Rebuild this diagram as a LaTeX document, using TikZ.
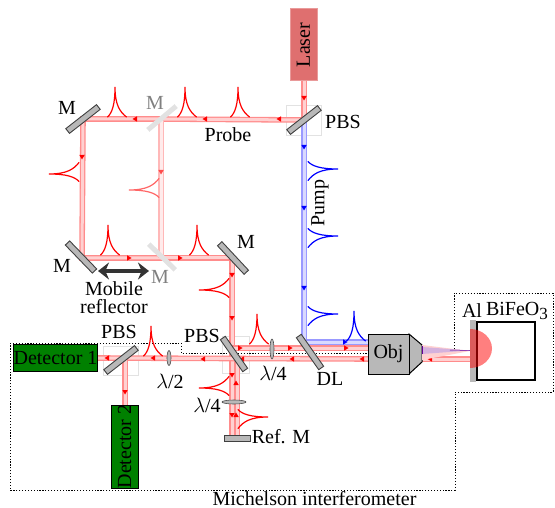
\documentclass[tikz,border=0pt]{standalone}
\usepackage{fontspec}
\setmainfont{Liberation Serif}
\usetikzlibrary{shapes.geometric,arrows.meta,calc}
\definecolor{gmirror}{HTML}{B8B8B8}
\definecolor{dgreen}{HTML}{008000}
\definecolor{laserc}{HTML}{DF6F6F}
\definecolor{boxgrey}{HTML}{E2E2E2}
\definecolor{arrowc}{HTML}{333333}
\tikzset{
  every node/.style={font=\fontsize{20}{20}\selectfont,inner sep=0pt},
  beam/.style={draw=red!45,double=red!18,line width=1.3pt,double distance=3pt},
  lightbeam/.style={draw=red!28,double=red!8,line width=1.3pt,double distance=3pt},
  bluebeam/.style={draw=blue!40,double=blue!15,line width=1.3pt,double distance=3pt},
  mirror/.style={draw=black!75,fill=gmirror,line width=0.9pt,minimum height=6pt,minimum width=#1,rectangle},
  ghostmirror/.style={draw=none,fill=boxgrey,minimum height=5pt,minimum width=#1,rectangle},
  pbsbox/.style={draw=boxgrey,line width=0.9pt},
  plate/.style={ellipse,draw=black!70,fill=gmirror,line width=0.6pt},
  dbox/.style={line width=0.9pt,draw=black,dash pattern=on 1.2pt off 1.7pt},
  detector/.style={rectangle,draw=black,fill=dgreen,line width=0.9pt,text=black},
  pr/.style={draw=red,line width=1.2pt},
  prl/.style={draw=red!60,line width=1.2pt},
  pb/.style={draw=blue,line width=1.2pt},
  pics/pulse/.style={code={
    \draw[line cap=round] (-9.5,0) .. controls (-5,-4) and (-2,-12) .. (-2,-30) .. controls (-2,-12) and (3,-5) .. (9.5,0);
  }},
  pics/mk/.style={code={
    \fill (2.5,0) -- (-2,-2.7) -- (-2,2.7) -- cycle;
  }},
}
\begin{document}
\begin{tikzpicture}[x=1pt,y=-1pt]
\useasboundingbox (0,0) rectangle (555,508);
% anchors
\coordinate (lasertail) at (304,80);
\coordinate (pbs1) at (304,120);
\coordinate (m1) at (83,119);
\coordinate (gm1) at (161,119);
\coordinate (m2) at (82,258);
\coordinate (gm2) at (161,258);
\coordinate (m3) at (232,258);
\coordinate (refa) at (232,435);
\coordinate (refb) at (237,435);
\coordinate (pbs2a) at (237,359);
\coordinate (pbs2u) at (232,348);
\coordinate (pump) at (304,342);
\coordinate (objb) at (368,342);
\coordinate (obju) at (368,348);
\coordinate (objl) at (368,359);
\coordinate (pbs3) at (125,358);
\coordinate (det2t) at (125,405);
\coordinate (det1r) at (97,358);
\coordinate (obje) at (422,359);
\coordinate (alb) at (470,359);
% pbs boxes
\draw[pbsbox] (286,105) rectangle (321,135);
\draw[pbsbox] (222,336) rectangle (249,373);
\draw[pbsbox] (103,346) rectangle (138,375);
% dotted enclosure
\draw[dbox] (10,343) -- (181,343) -- (181,353) -- (454,353) -- (454,293) -- (553,293) -- (553,392) -- (455,392) -- (455,490) -- (10,490) -- cycle;
% beams
\draw[beam] (lasertail) -- (pbs1);
\draw[bluebeam] (pbs1) -- (pump) -- (objb);
\draw[beam] (pbs1) -- (gm1) -- (m1) -- (m2) -- (gm2);
\draw[lightbeam] (gm1) -- (gm2);
\draw[beam] (gm2) -- (m3) -- (refa);
\draw[beam] (pbs2a) -- (refb);
\draw[beam] (pbs2u) -- (obju);
\draw[beam] (objl) -- (det1r);
\draw[beam] (pbs3) -- (det2t);
\draw[beam] (obje) -- (alb);
% pulses
\foreach \x in {117,187,240} \pic[pr] at (\x,117) {pulse};
\foreach \x in {110,199} \pic[pr] at (\x,255) {pulse};
\pic[pr] at (153,356) {pulse};
\pic[pr] at (259,344) {pulse};
\pic[pr,rotate=90] at (79,172) {pulse};
\pic[prl,rotate=90] at (159,188) {pulse};
\pic[pr,rotate=90] at (229,288) {pulse};
\pic[pr,rotate=90] at (229,386) {pulse};
\pic[pr,rotate=-90] at (238,419) {pulse};
\foreach \y in {171,238,316} \pic[pb,rotate=-90] at (308,\y) {pulse};
\pic[pb] at (356,341) {pulse};
% direction marks
\foreach \p in {(279,119),(205,119),(135,119),(203,359),(242,359),(292,359),(362,359),(430,359),(153,358),(107,358)}
  \pic[fill=red,rotate=180] at \p {mk};
\foreach \p in {(304,98),(82,157),(232,275),(232,318),(232,375),(232,415),(125,392)}
  \pic[fill=red,rotate=-90] at \p {mk};
\pic[fill=red!70,rotate=-90] at (161,172) {mk};
\foreach \p in {(129,258),(180,258),(240,348),(290,348),(346,348)}
  \pic[fill=red] at \p {mk};
\foreach \p in {(236,383),(236,415)}
  \pic[fill=red,rotate=90] at \p {mk};
\foreach \p in {(304,147),(304,208),(304,288)}
  \pic[fill=blue,rotate=-90] at \p {mk};
\pic[fill=blue] at (345,342) {mk};
% mirrors
\node[mirror=39pt,rotate=38] (M1) at (m1) {};
\node[mirror=39pt,rotate=-46] (M2) at (81,257) {};
\node[mirror=39pt,rotate=-47] (M3) at (233,258) {};
\node[ghostmirror=37pt,rotate=40] (G1) at (162,118) {};
\node[ghostmirror=37pt,rotate=-44] (G2) at (162,257) {};
\node[mirror=39pt,rotate=38] (P1) at (304,120) {};
\node[mirror=39pt,rotate=-55] (P2) at (234,354) {};
\node[mirror=39pt,rotate=38] (P3) at (121,360) {};
\node[mirror=39pt,rotate=-55] (DL) at (310,352) {};
\node[rectangle,draw=black!75,fill=gmirror,line width=0.9pt,minimum width=26pt,minimum height=6pt] (RM) at (237,438) {};
% wave plates
\node[plate,minimum width=4pt,minimum height=15pt] (HW) at (169,358) {};
\node[plate,minimum width=4pt,minimum height=20pt] (QW1) at (272,349) {};
\node[plate,minimum width=24pt,minimum height=4pt] (QW2) at (234,402) {};
% laser and detectors
\node[rectangle,fill=laserc,draw=laserc!70!white,minimum width=27pt,minimum height=72pt] (L) at (303.5,44) {};
\node[rotate=90] (Llab) at (303.5,45) {Laser};
\node[detector,minimum width=83pt,minimum height=27pt] (D1) at (55.5,357.5) {Detector 1};
\node[detector,minimum width=27pt,minimum height=83pt] (D2) at (124.5,446.5) {};
\node[rotate=90] (D2lab) at (124.5,446.5) {Detector 2};
% objective
\draw[fill=gmirror,line width=1pt] (409,334) -- (422,345) -- (422,362) -- (409,374) -- cycle;
\node[rectangle,draw=black,fill=gmirror,line width=1pt,minimum width=41pt,minimum height=40pt] (O) at (388.5,354) {Obj};
% focus
\fill[red!18] (422,345) -- (470,351) -- (422,360) -- cycle;
\fill[blue!55!red!30] (422,347) -- (470,350.5) -- (422,354) -- cycle;
\draw[blue!60!red,line width=.9pt] (422,346) -- (422,354);
\draw[blue!60!red,line width=.5pt] (450,350) -- (470,350.5);
% sample
\fill[gmirror] (470,320) rectangle (476,382);
\draw[line width=1.8pt] (477,322) rectangle (535,380);
\fill[red,opacity=.5] (470,329) arc[start angle=90,end angle=-90,x radius=22pt,y radius=19.5pt] -- cycle;
% mobile arrow
\draw[{Stealth[length=11pt,width=17pt]}-{Stealth[length=11pt,width=17pt]},draw=arrowc,fill=arrowc,line width=3.5pt] (98,271) -- (149,271);
% labels
\node (a) at (67,108) {M};
\node[text=gray] (b) at (155,103) {M};
\node (c) at (62,266) {M};
\node[text=gray] (d) at (160,277) {M};
\node (e) at (246,242) {M};
\node (f) at (228,135) {Probe};
\node (g) at (343,122) {PBS};
\node[rotate=90] (h) at (320,203) {Pump};
\node (i) at (114,289) {Mobile};
\node (j) at (114,307) {reflector};
\node (k) at (119,332) {PBS};
\node (l) at (202,336) {PBS};
\node (n) at (170,381) {$\lambda$/2};
\node (o) at (273,373) {$\lambda$/4};
\node (p) at (207,405) {$\lambda$/4};
\node (q) at (330,379) {DL};
\node (r) at (281,437) {Ref. M};
\node (s) at (472,311) {Al};
\node (t) at (517,311) {BiFeO\raisebox{-4pt}{\fontsize{17}{17}\selectfont 3}};
\node (u) at (314.5,499) {Michelson interferometer};
\end{tikzpicture}
\end{document}
